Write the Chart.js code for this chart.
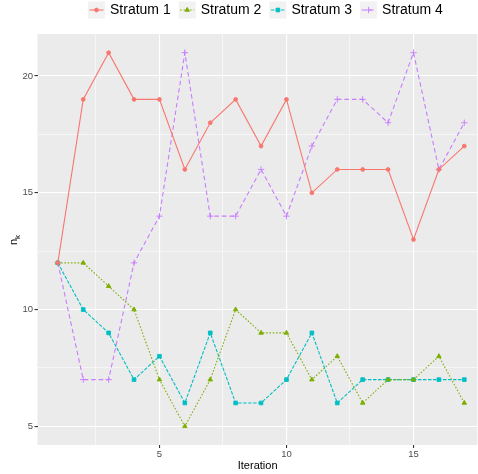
<!DOCTYPE html>
<html>
<head>
<meta charset="utf-8">
<script src="https://cdn.jsdelivr.net/npm/chart.js@4.4.1/dist/chart.umd.min.js"></script>
<style>
  body { margin: 0; background: #fff; }
  canvas { display: block; }
</style>
</head>
<body>
<canvas id="nkChart" width="478" height="474"></canvas>
<script>
  // data
  const iterations = [1, 2, 3, 4, 5, 6, 7, 8, 9, 10, 11, 12, 13, 14, 15, 16, 17];
  const stratum1 = [12, 19, 21, 19, 19, 16, 18, 19, 17, 19, 15, 16, 16, 16, 13, 16, 17];
  const stratum2 = [12, 12, 11, 10, 7, 5, 7, 10, 9, 9, 7, 8, 6, 7, 7, 8, 6];
  const stratum3 = [12, 10, 9, 7, 8, 6, 9, 6, 6, 7, 9, 6, 7, 7, 7, 7, 7];
  const stratum4 = [12, 7, 7, 12, 14, 21, 14, 14, 16, 14, 17, 19, 19, 18, 21, 16, 18];
  const seriesNames = ["Stratum 1", "Stratum 2", "Stratum 3", "Stratum 4"];
  const xTicks = [5, 10, 15];
  const yTicks = [5, 10, 15, 20];

  const colors = ["#F8766D", "#7CAE00", "#00BFC4", "#C77CFF"];
  const dashes = [[], [1.5, 1.8], [3.5, 1.5], [4.5, 3]];
  const shapes = ["circle", "triangle", "rect", "cross"];
  const radii = [1.9, 2.6, 2.6, 3.2];
  const FONT = "'Liberation Sans', Arial, sans-serif";

  function withMinor(major, step) {
    const out = [];
    major.forEach((v) => { out.push(v - step); out.push(v); });
    out.push(major[major.length - 1] + step);
    return out;
  }

  function pts(values) {
    return values.map((v, i) => ({ x: iterations[i], y: v }));
  }

  const allSeries = [stratum1, stratum2, stratum3, stratum4];
  const datasets = allSeries.map((vals, i) => ({
    label: seriesNames[i],
    data: pts(vals),
    borderColor: colors[i],
    backgroundColor: colors[i],
    borderWidth: 1.1,
    borderDash: dashes[i],
    pointStyle: shapes[i],
    pointRadius: radii[i],
    pointBorderWidth: 0.9,
    pointBorderColor: colors[i],
    pointBackgroundColor: colors[i],
    tension: 0,
  }));

  const isMajor = (list, v) => list.some((m) => Math.abs(m - v) < 1e-6);

  const panelBg = {
    id: "panelBg",
    beforeDraw(chart) {
      const a = chart.chartArea;
      const ctx = chart.ctx;
      ctx.save();
      ctx.fillStyle = "#EBEBEB";
      ctx.fillRect(a.left, a.top, a.right - a.left, a.bottom - a.top);
      ctx.restore();
    },
    afterDraw(chart) {
      const ctx = chart.ctx;
      // y axis title n_k
      ctx.save();
      ctx.translate(14, 240);
      ctx.rotate(-Math.PI / 2);
      ctx.fillStyle = "#000";
      ctx.textBaseline = "alphabetic";
      ctx.font = "11px " + FONT;
      ctx.fillText("n", -5, 3);
      ctx.font = "8px " + FONT;
      ctx.fillText("k", 1, 6);
      ctx.restore();

      // legend
      ctx.save();
      let x = 88;
      const keyTop = 1.5, key = 17;
      ctx.font = "14px " + FONT;
      chart.data.datasets.forEach((ds) => {
        ctx.fillStyle = "#F2F2F2";
        ctx.fillRect(x, keyTop, key, key);
        const cy = keyTop + key / 2;
        ctx.strokeStyle = ds.borderColor;
        ctx.lineWidth = 1.1;
        ctx.setLineDash(ds.borderDash);
        ctx.beginPath();
        ctx.moveTo(x + 1.5, cy);
        ctx.lineTo(x + key - 1.5, cy);
        ctx.stroke();
        ctx.setLineDash([]);
        ctx.fillStyle = ds.borderColor;
        ctx.strokeStyle = ds.borderColor;
        ctx.lineWidth = 0.9;
        Chart.helpers.drawPoint(ctx, {
          pointStyle: ds.pointStyle,
          radius: ds.pointRadius,
          borderWidth: 0.9,
          rotation: 0,
        }, x + key / 2, cy);
        ctx.fillStyle = "#000";
        ctx.textBaseline = "middle";
        ctx.fillText(ds.label, x + key + 5, cy + 0.5);
        x += key + 5 + ctx.measureText(ds.label).width + 8;
      });
      ctx.restore();
    },
  };

  const ctx = document.getElementById("nkChart").getContext("2d");
  const nkChart = new Chart(ctx, {
    type: "line",
    data: { datasets: datasets },
    plugins: [panelBg],
    options: {
      responsive: false,
      animation: false,
      layout: { autoPadding: false, padding: { top: 34, right: 0, left: 0, bottom: 0 } },
      plugins: {
        legend: { display: false },
        tooltip: { enabled: false },
      },
      scales: {
        x: {
          type: "linear",
          min: 0.2,
          max: 17.53,
          afterBuildTicks(scale) {
            scale.ticks = withMinor(xTicks, 2.5).map((v) => ({ value: v }));
          },
          afterFit(scale) { scale.height = 29; },
          border: { display: false },
          grid: {
            color: "#FFFFFF",
            lineWidth: (c) => (isMajor(xTicks, c.tick.value) ? 1.1 : 0.55),
            tickColor: (c) => (isMajor(xTicks, c.tick.value) ? "#333333" : "rgba(0,0,0,0)"),
            tickLength: 3,
          },
          ticks: {
            autoSkip: false,
            maxRotation: 0,
            padding: 1,
            color: "#4D4D4D",
            font: { size: 9.5, family: FONT },
            callback: (v) => (isMajor(xTicks, v) ? String(v) : ""),
          },
          title: {
            display: true,
            text: "Iteration",
            color: "#000",
            font: { size: 11, family: FONT },
            padding: { top: 0, bottom: 1.5 },
          },
        },
        y: {
          min: 4.2,
          max: 21.8,
          afterBuildTicks(scale) {
            scale.ticks = withMinor(yTicks, 2.5).filter((v) => v > 4.2 && v < 21.8).map((v) => ({ value: v }));
          },
          afterFit(scale) { scale.width = 37.5; },
          border: { display: false },
          grid: {
            color: "#FFFFFF",
            lineWidth: (c) => (isMajor(yTicks, c.tick.value) ? 1.1 : 0.55),
            tickColor: (c) => (isMajor(yTicks, c.tick.value) ? "#333333" : "rgba(0,0,0,0)"),
            tickLength: 3,
          },
          ticks: {
            autoSkip: false,
            padding: 1.5,
            color: "#4D4D4D",
            font: { size: 9.5, family: FONT },
            callback: (v) => (isMajor(yTicks, v) ? String(v) : ""),
          },
        },
      },
    },
  });
</script>
</body>
</html>
